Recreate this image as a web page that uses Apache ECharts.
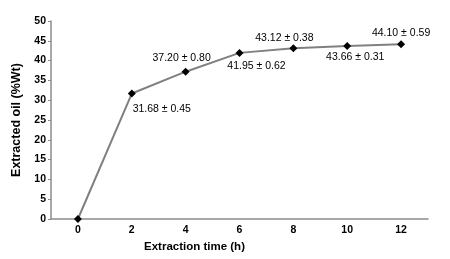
<!DOCTYPE html>
<html>
<head>
<meta charset="utf-8">
<script src="https://cdn.jsdelivr.net/npm/echarts@6/dist/echarts.min.js"></script>
<style>
  html, body { margin: 0; padding: 0; background: #fff; }
  #chart { width: 450px; height: 259px; }
</style>
</head>
<body>
<div id="chart"></div>
<script>
// extraction time (h)
const hours = ['0', '2', '4', '6', '8', '10', '12'];
// extracted oil (%Wt)
const oilYield = [0, 31.68, 37.20, 41.95, 43.12, 43.66, 44.10];
const labelTexts = ['', '31.68 ± 0.45', '37.20 ± 0.80', '41.95 ± 0.62', '43.12 ± 0.38', '43.66 ± 0.31', '44.10 ± 0.59'];
const labelOffsets = [[0, 0], [30, 16], [-4, -14], [17, 13], [-9, -10], [8, 11], [0, -11]];

const font = 'Liberation Sans, Arial, sans-serif';

const chart = echarts.init(document.getElementById('chart'));

chart.setOption({
  animation: false,
  grid: { left: 51, right: 22, top: 21, bottom: 40 },
  xAxis: {
    type: 'category',
    data: hours,
    boundaryGap: true,
    name: 'Extraction time (h)',
    nameLocation: 'middle',
    nameGap: 19,
    nameTextStyle: { fontFamily: font, fontWeight: 'bold', fontSize: 11.5, color: '#000', padding: [0, 90, 0, 0] },
    axisLine: { lineStyle: { color: '#8c8c8c', width: 1.5 } },
    axisTick: { show: false },
    axisLabel: { fontFamily: font, fontWeight: 'bold', fontSize: 10.5, color: '#000', margin: 6 }
  },
  yAxis: {
    type: 'value',
    min: 0,
    max: 50,
    interval: 5,
    name: 'Extracted oil (%Wt)',
    nameLocation: 'middle',
    nameGap: 20,
    nameTextStyle: { fontFamily: font, fontWeight: 'bold', fontSize: 12.5, color: '#000' },
    axisLine: { show: true, lineStyle: { color: '#8c8c8c', width: 1.5 } },
    axisTick: { show: true, length: 3, lineStyle: { color: '#8c8c8c' } },
    splitLine: { show: false },
    axisLabel: { fontFamily: font, fontWeight: 'bold', fontSize: 10.5, color: '#000', margin: 5 }
  },
  series: [{
    type: 'line',
    data: oilYield.map((v, i) => ({
      value: v,
      label: {
        show: labelTexts[i] !== '',
        formatter: labelTexts[i],
        position: 'inside',
        offset: labelOffsets[i]
      }
    })),
    lineStyle: { color: '#808080', width: 2 },
    symbol: 'diamond',
    symbolSize: 8,
    itemStyle: { color: '#000' },
    label: { fontFamily: font, fontSize: 10.5, color: '#000' }
  }]
});
</script>
</body>
</html>
